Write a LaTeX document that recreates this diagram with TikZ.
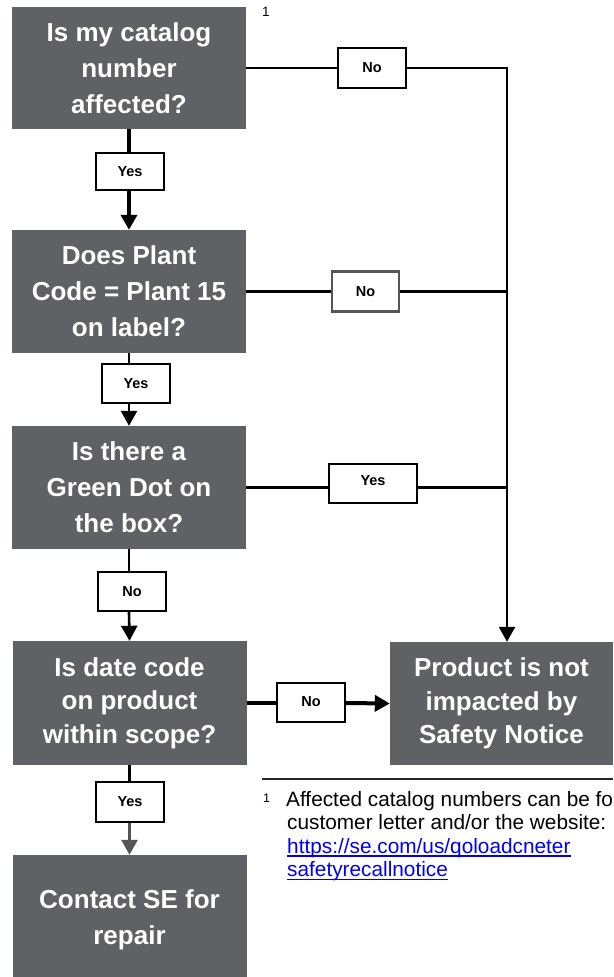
\documentclass[tikz,border=0pt]{standalone}
\usepackage{fontspec}
\setmainfont{Liberation Sans}
\usetikzlibrary{arrows.meta}
\definecolor{boxgray}{RGB}{96,97,101}
\definecolor{linkblue}{RGB}{0,0,238}
\definecolor{lblgray}{RGB}{85,85,88}
\begin{document}
\begin{tikzpicture}[x=1pt,y=-1pt,
  qbox/.style={fill=boxgray, text=white, align=center, minimum width=234pt, inner sep=0pt,
    font=\bfseries\fontsize{26}{36}\selectfont},
  qboxn/.style={qbox, font=\bfseries\fontsize{26}{33.5}\selectfont},
  lbl/.style={draw=black, line width=2pt, fill=white, inner sep=0pt,
    font=\bfseries\fontsize{14.5}{16}\selectfont, minimum width=68pt, minimum height=39pt},
  conn/.style={line width=2.6pt},
  thickconn/.style={line width=4pt},
  arr/.style={-{Triangle[width=16pt,length=15pt]}},
  fnote/.style={anchor=base west, inner sep=0pt, font=\fontsize{20.8}{23}\selectfont},
  fnlink/.style={fnote, text=linkblue}]
\clip (0,0) rectangle (613,977);
\fill[white] (0,0) rectangle (613,977);

% question boxes
\node[qbox, minimum height=122pt] (b1) at (129,68) {Is my catalog\\number\\affected?};
\node[qbox, minimum height=123pt] (b2) at (129,291.5) {Does Plant\\Code = Plant 15\\on label?};
\node[qbox, minimum height=123pt] (b3) at (129,487.5) {Is there a\\Green Dot on\\the box?};
\node[qboxn, minimum height=124pt] (b4) at (129.5,703) {Is date code\\on product\\within scope?};
\node[qboxn, minimum width=223pt, minimum height=123pt] (pr) at (501.5,703.5) {Product is not\\impacted by\\Safety Notice};
\node[qbox, minimum height=130pt] (b5) at (129.5,920) {Contact SE for\\repair};

% footnote mark
\node[inner sep=0pt, font=\fontsize{13.5}{14}\selectfont] (fm) at (266,12) {1};

% labels
\node[lbl, minimum height=37pt] (y1) at (130,171.5) {Yes};
\node[lbl, minimum height=40pt] (n1) at (372,68) {No};
\node[lbl, draw=lblgray, line width=2.5pt, minimum width=67pt, minimum height=40pt] (n2) at (365.5,291.5) {No};
\node[lbl, line width=2.5pt] (y2) at (136,383.5) {Yes};
\node[lbl, minimum width=88pt] (y3) at (373,483.5) {\raisebox{5pt}{Yes}};
\node[lbl] (n3) at (132,591.5) {No};
\node[lbl] (n4) at (311,702) {No};
\node[lbl, minimum height=40pt] (y5) at (130,802) {Yes};

\coordinate (vx) at (507,68);

% connectors
\draw[thickconn] (b1.south) -- (b1.south |- y1.north);
\draw[thickconn, arr] (b1.south |- y1.south) -- (b2.north);
\draw[conn] (b1.east) -- (b1.east -| n1.west);
\draw[conn, arr] (b1.east -| n1.east) -- (vx) -- (vx |- pr.north);

\draw[conn] (b2.east) -- (b2.east -| n2.west);
\draw[conn] (b2.east -| n2.east) -- (b2.east -| vx);
\draw[conn] (b2.south) -- (b2.south |- y2.north);
\draw[conn, arr] (b2.south |- y2.south) -- (b3.north);

\draw[conn] (b3.east) -- (b3.east -| y3.west);
\draw[conn] (b3.east -| y3.east) -- (b3.east -| vx);
\draw[conn] (b3.south) -- (b3.south |- n3.north);
\draw[conn, arr] (b3.south |- n3.south) -- (b4.north);

\draw[thickconn] (b4.east) -- (b4.east -| n4.west);
\draw[thickconn, arr] (b4.east -| n4.east) -- (pr.west);
\draw[conn] (b4.south) -- (b4.south |- y5.north);
\draw[conn, arr, draw=lblgray, fill=lblgray] (b4.south |- y5.south) -- (b5.north);

% footnote
\coordinate (rl) at (262,779);
\coordinate (rr) at (613,779);
\draw[line width=1.2pt, black!85] (rl) -- (rr);
\node[inner sep=0pt, font=\fontsize{12.5}{13}\selectfont, anchor=base west] (fs) at (263,802) {1};
\node[fnote] (f1) at (286,806.5) {Affected catalog numbers can be fo};
\node[fnote] (f2) at (287,829.8) {customer letter and/or the website:};
\node[fnlink] (f3) at (287,853) {https://se.com/us/qoloadcneter};
\node[fnlink] (f4) at (287,876.3) {safetyrecallnotice};
\draw[linkblue, line width=1.3pt] ([yshift=-3pt]f3.base west) -- ([yshift=-3pt]f3.base east);
\draw[linkblue, line width=1.3pt] ([yshift=-3pt]f4.base west) -- ([yshift=-3pt]f4.base east);
\end{tikzpicture}
\end{document}
